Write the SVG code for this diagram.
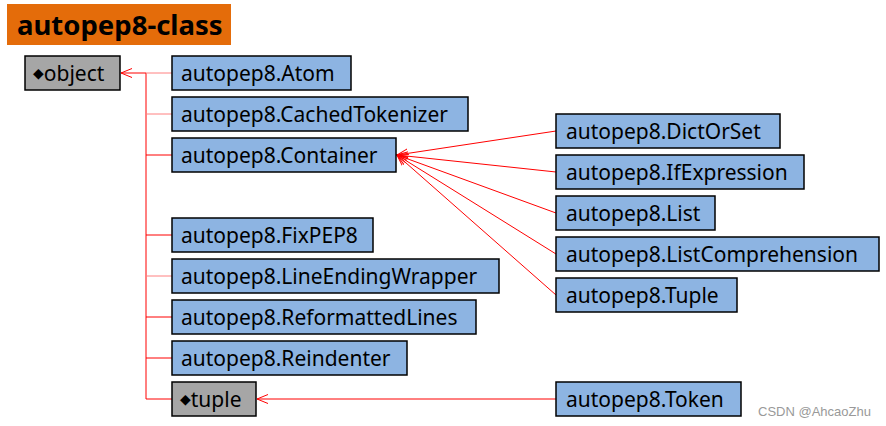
<svg xmlns="http://www.w3.org/2000/svg" width="886" height="426" viewBox="0 0 886 426">
<defs>
<marker id="open" viewBox="0 0 12 12" refX="11" refY="6" markerWidth="12" markerHeight="12" markerUnits="userSpaceOnUse" orient="auto">
<path d="M0,1.5 L11,6 L0,10.5" fill="none" stroke="#FF0000" stroke-width="1"/>
</marker>
</defs>
<style>
.cls rect{fill:#8DB4E2;stroke:#000;stroke-width:1.5}
.base rect{fill:#A6A6A6;stroke:#000;stroke-width:1.5}
text{font-family:"Noto Sans","Liberation Sans",sans-serif;font-size:21px;fill:#000}
.c line{stroke:#FF0000;stroke-width:1;fill:none}
.c .pale{stroke:#FF8080}
.dia{font-size:14px;font-family:"DejaVu Sans",sans-serif}
</style>
<rect width="886" height="426" fill="#fff"/>
<g id="title">
<rect x="7" y="4" width="224" height="41" fill="#E46C0A"/>
<text x="17" y="35" style="font-weight:bold;font-size:27.5px">autopep8-class</text>
</g>
<g class="c" id="connectors">
<line x1="146" y1="73" x2="146" y2="399"/>
<line x1="146" y1="73" x2="121" y2="73" marker-end="url(#open)"/>
<line class="pale" x1="146" y1="73" x2="172" y2="73"/>
<line class="pale" x1="146" y1="114" x2="172" y2="114"/>
<line x1="146" y1="155" x2="172" y2="155"/>
<line x1="146" y1="235" x2="172" y2="235"/>
<line class="pale" x1="146" y1="276" x2="172" y2="276"/>
<line x1="146" y1="317" x2="172" y2="317"/>
<line x1="146" y1="358" x2="172" y2="358"/>
<line x1="146" y1="399" x2="172" y2="399"/>
<line x1="556" y1="131" x2="397" y2="155" marker-end="url(#open)"/>
<line x1="556" y1="172" x2="397" y2="155" marker-end="url(#open)"/>
<line x1="556" y1="213" x2="397" y2="155" marker-end="url(#open)"/>
<line x1="556" y1="254" x2="397" y2="155" marker-end="url(#open)"/>
<line x1="556" y1="295" x2="397" y2="155" marker-end="url(#open)"/>
<line x1="556" y1="399" x2="257" y2="399" marker-end="url(#open)"/>
</g>
<g id="object" class="base"><rect x="25" y="56" width="95" height="34"/><text x="33" y="81"><tspan class="dia" dy="-3">◆</tspan><tspan dy="3">object</tspan></text></g>
<g id="atom" class="cls"><rect x="172" y="56" width="179" height="34"/><text x="181" y="81">autopep8.Atom</text></g>
<g id="cachedtokenizer" class="cls"><rect x="172" y="97" width="296" height="34"/><text x="181" y="122">autopep8.CachedTokenizer</text></g>
<g id="container" class="cls"><rect x="172" y="138" width="224" height="34"/><text x="181" y="163">autopep8.Container</text></g>
<g id="fixpep8" class="cls"><rect x="172" y="218" width="201" height="34"/><text x="181" y="243">autopep8.FixPEP8</text></g>
<g id="lineendingwrapper" class="cls"><rect x="172" y="259" width="327" height="34"/><text x="181" y="284">autopep8.LineEndingWrapper</text></g>
<g id="reformattedlines" class="cls"><rect x="172" y="300" width="304" height="34"/><text x="181" y="325">autopep8.ReformattedLines</text></g>
<g id="reindenter" class="cls"><rect x="172" y="341" width="235" height="34"/><text x="181" y="366">autopep8.Reindenter</text></g>
<g id="tuple" class="base"><rect x="172" y="382" width="84" height="34"/><text x="180" y="407"><tspan class="dia" dy="-3">◆</tspan><tspan dy="3">tuple</tspan></text></g>
<g id="dictorset" class="cls"><rect x="556" y="114" width="224" height="34"/><text x="566" y="139">autopep8.DictOrSet</text></g>
<g id="ifexpression" class="cls"><rect x="556" y="155" width="248" height="34"/><text x="566" y="180">autopep8.IfExpression</text></g>
<g id="list" class="cls"><rect x="556" y="196" width="159" height="34"/><text x="566" y="221">autopep8.List</text></g>
<g id="listcomprehension" class="cls"><rect x="556" y="237" width="323" height="34"/><text x="566" y="262">autopep8.ListComprehension</text></g>
<g id="tuple2" class="cls"><rect x="556" y="278" width="181" height="34"/><text x="566" y="303">autopep8.Tuple</text></g>
<g id="token" class="cls"><rect x="556" y="382" width="185" height="34"/><text x="566" y="407">autopep8.Token</text></g>
<text x="758" y="416" style="font-size:13px;fill:#999;font-family:'Liberation Sans',sans-serif">CSDN @AhcaoZhu</text>
</svg>
